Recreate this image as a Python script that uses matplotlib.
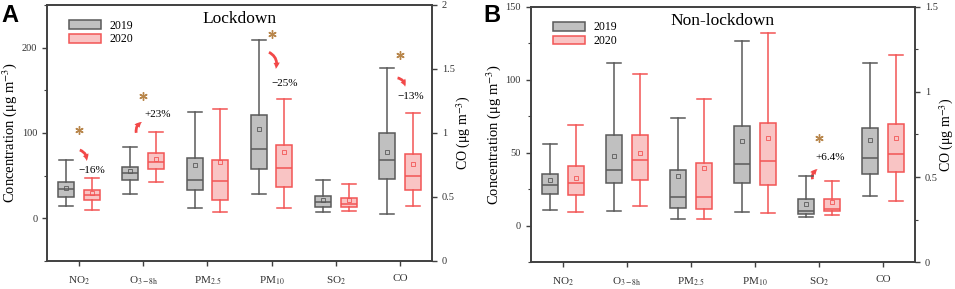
import matplotlib
matplotlib.use("Agg")
import matplotlib.pyplot as plt
from matplotlib.patches import FancyArrowPatch, Patch
from matplotlib.ticker import MultipleLocator

plt.rcParams['font.family'] = ['Liberation Serif', 'DejaVu Serif']
plt.rcParams['mathtext.fontset'] = 'stix'

categories = ['NO$_2$', 'O$_{\\mathrm{3-8h}}$', 'PM$_{2.5}$', 'PM$_{10}$', 'SO$_2$', 'CO']
years = ['2019', '2020']

# Lockdown panel: [whislo, q1, median, q3, whishi, mean]; CO in mg m-3 on right axis
lock_2019 = [
    [14.5, 25, 34, 42, 68, 36],
    [29, 44.6, 53, 60, 83, 56],
    [12, 33, 45, 71, 124, 62],
    [29, 58, 81.5, 121, 209, 105],
    [7, 13, 19.6, 26, 45, 21],
    [0.37, 0.639, 0.787, 1.0, 1.51, 0.85],
]
lock_2020 = [
    [9.4, 22, 27, 33, 47, 30],
    [43, 58, 66, 77, 101.4, 69],
    [7.5, 22, 44, 68, 127.6, 66],
    [12, 37, 59.5, 86, 140, 78],
    [9, 13.4, 17, 24, 40, 21],
    [0.43, 0.558, 0.665, 0.832, 1.158, 0.761],
]
# Non-lockdown panel
non_2019 = [
    [10.7, 22, 28, 35.6, 56, 31.5],
    [10, 29, 38.4, 62, 111.6, 47.7],
    [4.4, 12.3, 19.4, 38, 74, 34],
    [9.6, 29, 42, 68.5, 126.3, 57.8],
    [5.7, 8, 10, 18.5, 34.2, 14.9],
    [0.387, 0.518, 0.61, 0.788, 1.168, 0.717],
]
non_2020 = [
    [9.2, 20.8, 29.5, 41, 69, 33],
    [13.3, 31.5, 45, 62, 104, 50],
    [4.4, 11.4, 19.4, 43, 86.6, 39.3],
    [8.9, 27.9, 44.3, 70.3, 132, 59.8],
    [7.1, 10, 11.7, 18.3, 30.8, 16.2],
    [0.357, 0.53, 0.637, 0.81, 1.216, 0.73],
]

# annotations: (category index, star y, arrow start, arrow end, label, label pos, rad)
lock_notes = [
    (0, 104, (-0.03, 81), (0.11, 64), '\u221216%', (0.2, 56), -0.5),
    (1, 143, (0.9, 97), (1.02, 114), '+23%', (1.23, 122), -0.5),
    (3, 216, (2.92, 196), (3.05, 172), '\u221225%', (3.2, 158), -0.5),
    (5, 191, (4.92, 165), (5.08, 151), '\u221213%', (5.17, 143), -0.5),
]
non_notes = [
    (4, 60, (3.91, 30), (4.02, 39.5), '+6.4%', (4.18, 47), -0.5),
]

GRAY_FACE, GRAY_EDGE = '#c0c0c0', '#5a5a5a'
RED_FACE, RED_EDGE = '#f9c4c4', '#f25555'
STAR = '#b8864b'
ARROW = '#f24848'
SPINE = '#404040'


def stats(rows):
    out = []
    for r in rows:
        out.append(dict(whislo=r[0], q1=r[1], med=r[2], q3=r[3], whishi=r[4], mean=r[5], fliers=[]))
    return out


def draw_boxes(ax, st, pos, face, edge):
    ax.bxp(st, positions=pos, widths=0.25, patch_artist=True, showmeans=True,
           showfliers=False, manage_ticks=False,
           capwidths=0.22,
           boxprops=dict(facecolor=face, edgecolor=edge, linewidth=1.1),
           medianprops=dict(color=edge, linewidth=1.1),
           whiskerprops=dict(color=edge, linewidth=1.1),
           capprops=dict(color=edge, linewidth=1.1),
           meanprops=dict(marker='s', markersize=3, markerfacecolor='none',
                          markeredgecolor=edge, markeredgewidth=0.6))


def panel(ax, d19, d20, ylim, yr_major, yr_minor, ylim2, y2_major, y2_minor, title, notes, letter, letter_x):
    ax2 = ax.twinx()
    n = len(categories)
    idx = list(range(n - 1))
    s19 = stats(d19)
    s20 = stats(d20)
    draw_boxes(ax, [s19[i] for i in idx], [i - 0.2 for i in idx], GRAY_FACE, GRAY_EDGE)
    draw_boxes(ax, [s20[i] for i in idx], [i + 0.2 for i in idx], RED_FACE, RED_EDGE)
    draw_boxes(ax2, [s19[n - 1]], [n - 1 - 0.2], GRAY_FACE, GRAY_EDGE)
    draw_boxes(ax2, [s20[n - 1]], [n - 1 + 0.2], RED_FACE, RED_EDGE)

    ax.set_xlim(-0.5, n - 0.5)
    ax.set_ylim(*ylim)
    ax2.set_ylim(*ylim2)
    ax.set_xticks(range(n))
    ax.set_xticklabels(categories, fontsize=8)
    ax.yaxis.set_major_locator(MultipleLocator(yr_major))
    ax.yaxis.set_minor_locator(MultipleLocator(yr_minor))
    ax2.yaxis.set_major_locator(MultipleLocator(y2_major))
    if y2_minor:
        ax2.yaxis.set_minor_locator(MultipleLocator(y2_minor))
    ax2.yaxis.set_major_formatter(matplotlib.ticker.FuncFormatter(lambda v, p: f'{v:g}'))
    for a in (ax, ax2):
        for sp in a.spines.values():
            sp.set_color(SPINE)
            sp.set_linewidth(1.2)
        a.tick_params(axis='both', which='major', direction='out', length=3.5, width=1,
                      color=SPINE, labelsize=7.5, labelcolor='#333333')
        a.tick_params(axis='both', which='minor', direction='out', length=2, width=0.8, color=SPINE)
    ax.tick_params(axis='x', labelsize=8, pad=6)
    ax.set_ylabel('Concentration (\u03bcg m$^{-3}$)', fontsize=10.5, labelpad=2)
    ax2.set_ylabel('CO (\u03bcg m$^{-3}$)', fontsize=10, labelpad=0)
    ax.text(0.5, 0.945, title, fontsize=12.5, ha='center', va='center', transform=ax.transAxes)

    handles = [Patch(facecolor=GRAY_FACE, edgecolor=GRAY_EDGE, linewidth=1.1),
               Patch(facecolor=RED_FACE, edgecolor=RED_EDGE, linewidth=1.1)]
    ax.legend(handles, years, loc='upper left', bbox_to_anchor=(0.04, 0.97), frameon=False,
              fontsize=8.5, handlelength=2.7, handleheight=0.75, labelspacing=0.15,
              handletextpad=0.7, borderaxespad=0.2)

    for ci, sy, a0, a1, lab, lp, rad in notes:
        ax.plot([ci], [sy], linestyle='none', marker=(6, 2, 0), markersize=6,
                markeredgecolor=STAR, markeredgewidth=1.0)
        arr = FancyArrowPatch(a0, a1, connectionstyle=f'arc3,rad={rad}',
                              arrowstyle='simple,head_width=4.5,head_length=4.5,tail_width=2',
                              color=ARROW, lw=0, mutation_scale=1)
        ax.add_patch(arr)
        ax.text(lp[0], lp[1], lab, fontsize=8, ha='center', va='center')

    ax.figure.text(letter_x, 0.985, letter, fontsize=17, fontweight='bold',
                   family='Liberation Sans', ha='left', va='top')
    return ax2


fig = plt.figure(figsize=(9.55, 2.89), dpi=100)
axA = fig.add_axes([0.0492, 0.0969, 0.4032, 0.886])
axB = fig.add_axes([0.5557, 0.0924, 0.4024, 0.8846])

panel(axA, lock_2019, lock_2020, (-50, 250), 100, 50, (0, 2), 0.5, None,
      'Lockdown', lock_notes, 'A', 0.001)
panel(axB, non_2019, non_2020, (-25, 150), 50, 25, (0, 1.5), 0.5, 0.25,
      'Non-lockdown', non_notes, 'B', 0.506)

fig.savefig('out.png', dpi=100)
